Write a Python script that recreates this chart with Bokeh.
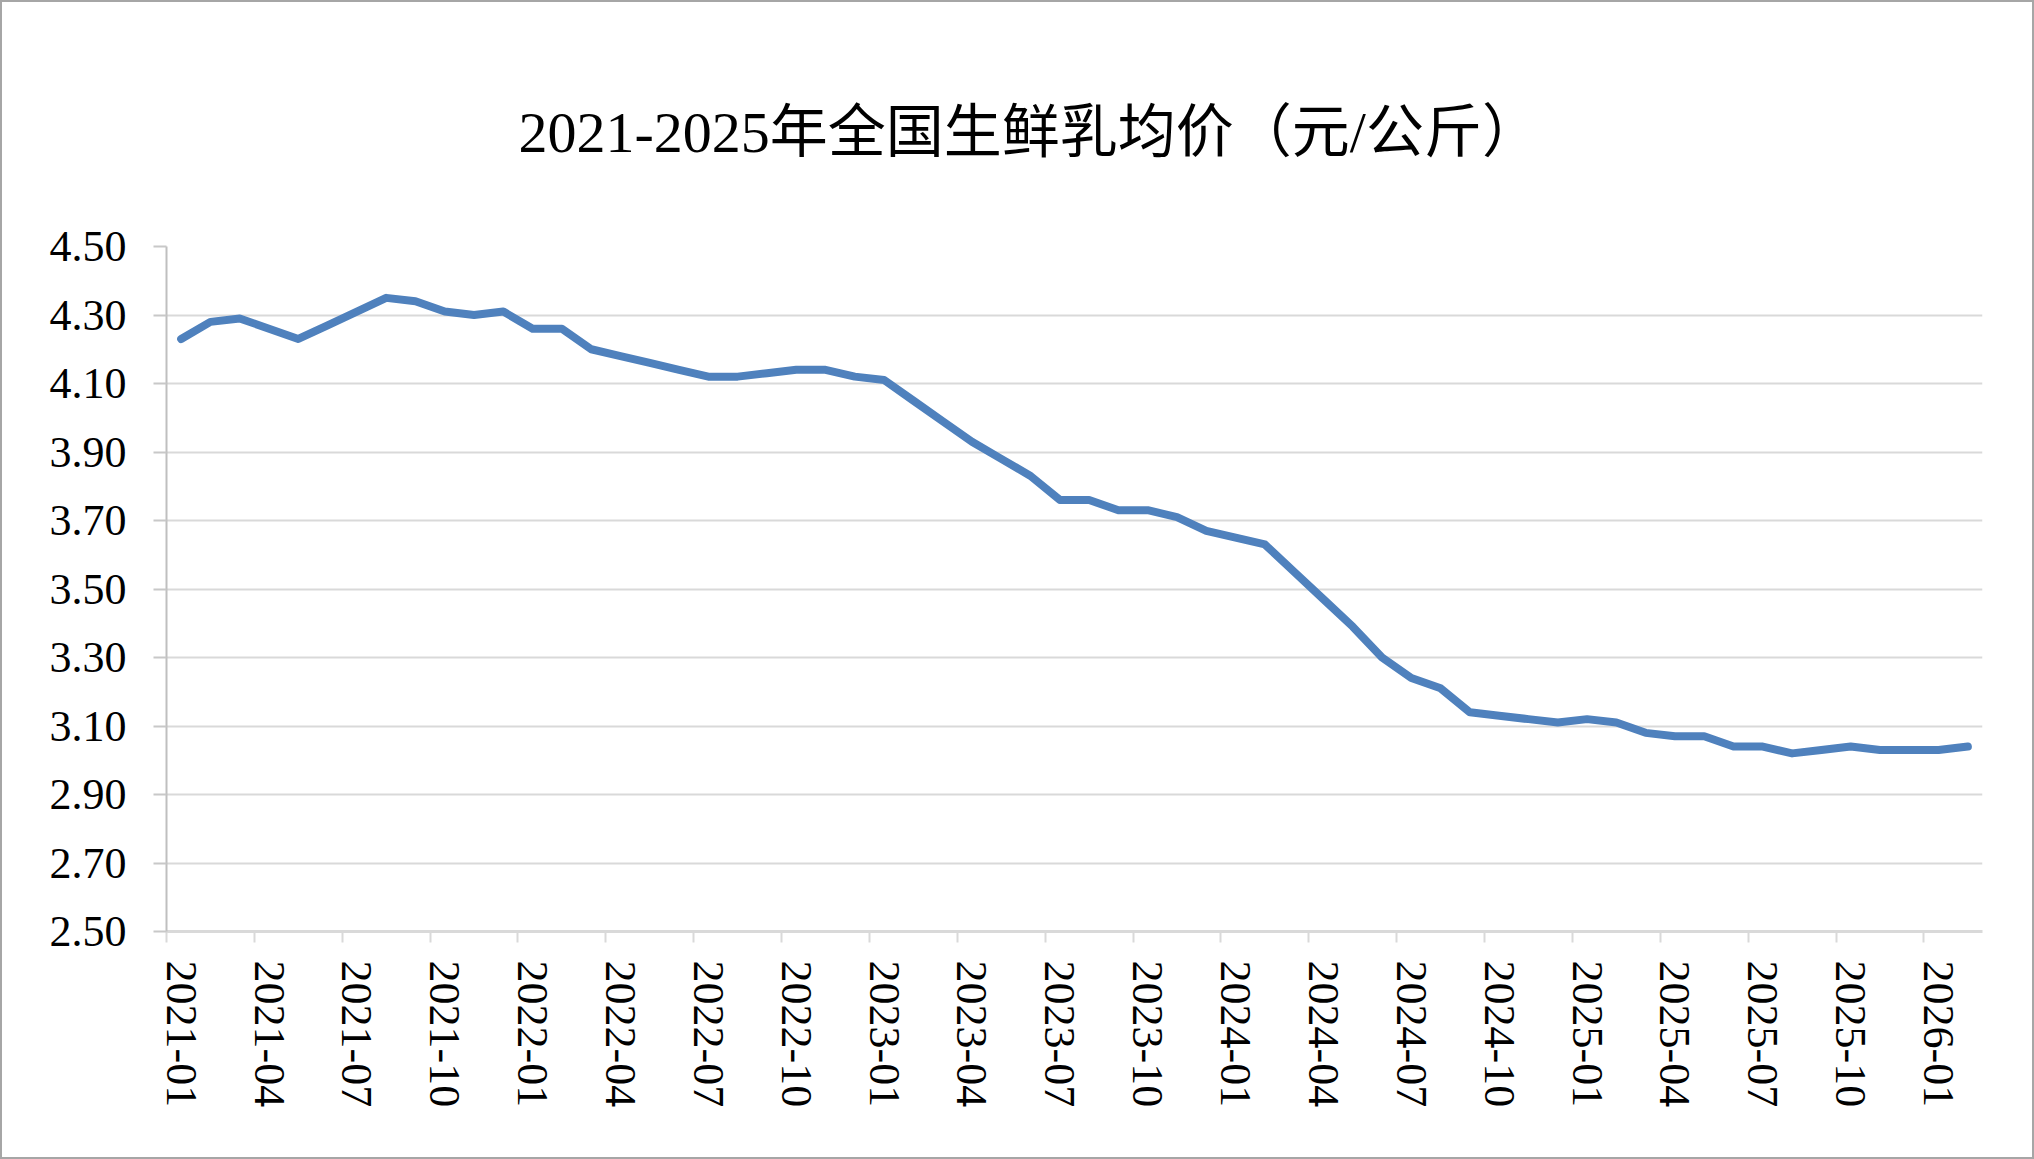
from bokeh.plotting import figure
from bokeh.models import Range1d, FixedTicker, LinearAxis, NumeralTickFormatter, CustomJSTickFormatter
from bokeh.embed import file_html
from bokeh.resources import INLINE

title_text = "2021-2025年全国生鲜乳均价（元/公斤）"

months = [
    "2021-01", "2021-02", "2021-03", "2021-04", "2021-05", "2021-06",
    "2021-07", "2021-08", "2021-09", "2021-10", "2021-11", "2021-12",
    "2022-01", "2022-02", "2022-03", "2022-04", "2022-05", "2022-06",
    "2022-07", "2022-08", "2022-09", "2022-10", "2022-11", "2022-12",
    "2023-01", "2023-02", "2023-03", "2023-04", "2023-05", "2023-06",
    "2023-07", "2023-08", "2023-09", "2023-10", "2023-11", "2023-12",
    "2024-01", "2024-02", "2024-03", "2024-04", "2024-05", "2024-06",
    "2024-07", "2024-08", "2024-09", "2024-10", "2024-11", "2024-12",
    "2025-01", "2025-02", "2025-03", "2025-04", "2025-05", "2025-06",
    "2025-07", "2025-08", "2025-09", "2025-10", "2025-11", "2025-12",
    "2026-01", "2026-02",
]

prices = [
    4.23, 4.28, 4.29, 4.26, 4.23, 4.27, 4.31, 4.35, 4.34, 4.31, 4.30, 4.31,
    4.26, 4.26, 4.20, 4.18, 4.16, 4.14, 4.12, 4.12, 4.13, 4.14, 4.14, 4.12,
    4.11, 4.05, 3.99, 3.93, 3.88, 3.83, 3.76, 3.76, 3.73, 3.73, 3.71, 3.67,
    3.65, 3.63, 3.55, 3.47, 3.39, 3.30, 3.24, 3.21, 3.14, 3.13, 3.12, 3.11,
    3.12, 3.11, 3.08, 3.07, 3.07, 3.04, 3.04, 3.02, 3.03, 3.04, 3.03, 3.03,
    3.03, 3.04,
]

y_ticks = [2.50, 2.70, 2.90, 3.10, 3.30, 3.50, 3.70, 3.90, 4.10, 4.30, 4.50]
label_step = 3

n = len(months)
x_pos = [i + 0.5 for i in range(n)]

SERIF = "Liberation Serif"

p = figure(
    width=2034, height=1159,
    output_backend="svg", toolbar_location=None,
    x_range=Range1d(0, n), y_range=Range1d(y_ticks[0], y_ticks[-1]),
    min_border_left=164, min_border_right=54, min_border_top=244, min_border_bottom=230,
    background_fill_color="white", border_fill_color="white",
)
p.outline_line_color = None
p.styles = {"border": "2px solid #a6a6a6", "box-sizing": "border-box"}

# title
p.title.text = title_text
p.title.align = "left"
p.title.text_font = "'Liberation Serif', 'Noto Sans CJK SC'"
p.title.text_font_size = "58px"
p.title.text_font_style = "normal"
p.title.text_color = "#000000"
p.title.standoff = 164
p.title.offset = 352

# y axis
ya = p.yaxis[0]
ya.ticker = FixedTicker(ticks=y_ticks)
ya.formatter = NumeralTickFormatter(format="0.00")
ya.axis_line_color = "#bfbfbf"
ya.axis_line_width = 2
ya.major_tick_line_color = "#c8c8c8"
ya.major_tick_line_width = 2
ya.major_tick_in = 0
ya.major_tick_out = 13
ya.minor_tick_line_color = None
ya.major_label_text_font = SERIF
ya.major_label_text_font_size = "44px"
ya.major_label_text_color = "#000000"
ya.major_label_standoff = 27

p.ygrid.grid_line_color = "#d9d9d9"
p.ygrid.grid_line_width = 2
p.xgrid.visible = False

# x axis: tick marks at category boundaries
xa = p.xaxis[0]
xa.ticker = FixedTicker(ticks=list(range(0, n, label_step)))
xa.formatter = CustomJSTickFormatter(code="return '';")
xa.axis_line_color = "#d9d9d9"
xa.axis_line_width = 3
xa.major_tick_line_color = "#d9d9d9"
xa.major_tick_line_width = 2
xa.major_tick_in = 0
xa.major_tick_out = 11
xa.minor_tick_line_color = None
xa.major_label_text_font_size = "1px"
xa.major_label_standoff = 0

# x axis: labels at category centres
xl = LinearAxis(
    ticker=FixedTicker(ticks=[i + 0.5 for i in range(0, n, label_step)]),
    formatter=CustomJSTickFormatter(args=dict(labels=months), code="return labels[Math.floor(tick)] || '';"),
    axis_line_color=None, major_tick_line_color=None, minor_tick_line_color=None,
    major_tick_in=0, major_tick_out=0,
    major_label_orientation="vertical",
    major_label_text_font=SERIF, major_label_text_font_size="44px",
    major_label_text_color="#000000", major_label_standoff=18,
)
p.add_layout(xl, "below")

p.line(x_pos, prices, line_color="#4f81bd", line_width=8, line_join="round", line_cap="round")

open("out.html", "w").write(file_html(p, INLINE))
